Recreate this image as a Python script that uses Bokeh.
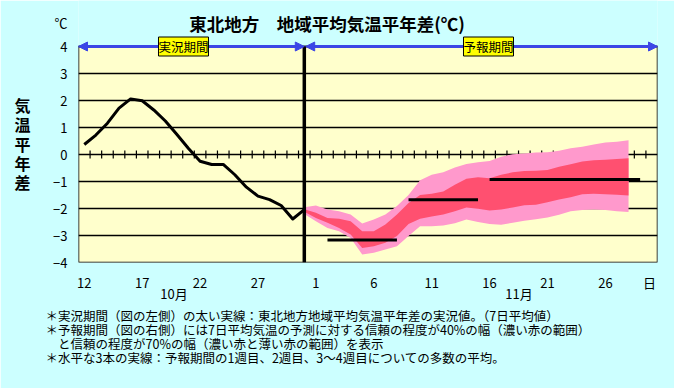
import numpy as np
from bokeh.plotting import figure
from bokeh.models import (Range1d, FixedTicker, Label, Arrow, NormalHead, LinearAxis, Title)
from bokeh.embed import file_html
from bokeh.resources import INLINE

# ---------------- data ----------------
title_text = "東北地方　地域平均気温平年差(℃)"
unit_text = "℃"
y_title_chars = ["気", "温", "平", "年", "差"]
month_labels = ["10月", "11月"]
day_unit = "日"
period_labels = ["実況期間", "予報期間"]

days = list(range(12, 32)) + list(range(1, 31))      # Oct 12 .. Nov 30
y_ticks = [-4, -3, -2, -1, 0, 1, 2, 3, 4]
y_tick_labels = ["−4", "−3", "−2", "−1", "0", "1", "2", "3", "4"]

obs = [0.37, 0.72, 1.16, 1.72, 2.06, 1.99, 1.65, 1.24, 0.74, 0.22,
       -0.25, -0.37, -0.37, -0.75, -1.21, -1.54, -1.67, -1.89, -2.39, -2.04]

fc_start = 19
fc_hi70 = [-1.95, -1.89, -2.04, -2.10, -2.22, -2.56, -2.41, -2.22, -1.91, -1.50,
           -0.95, -0.75, -0.66, -0.48, -0.35, -0.29, -0.24, -0.08, 0.01, 0.04,
           0.07, 0.08, 0.14, 0.23, 0.29, 0.37, 0.44, 0.47, 0.53]
fc_hi40 = [-2.03, -2.16, -2.35, -2.38, -2.47, -2.84, -2.84, -2.59, -2.22, -1.80,
           -1.50, -1.45, -1.37, -1.12, -0.90, -0.84, -0.88, -0.75, -0.66, -0.61,
           -0.60, -0.57, -0.45, -0.36, -0.26, -0.21, -0.19, -0.17, -0.14]
fc_lo40 = [-2.12, -2.35, -2.53, -2.72, -2.96, -3.46, -3.40, -3.27, -3.02, -2.57,
           -2.38, -2.30, -2.22, -2.10, -1.96, -2.01, -2.07, -2.04, -1.96, -1.88,
           -1.86, -1.77, -1.67, -1.58, -1.47, -1.45, -1.47, -1.49, -1.52]
fc_lo70 = [-2.20, -2.47, -2.72, -2.84, -3.09, -3.70, -3.64, -3.52, -3.40, -3.02,
           -2.66, -2.66, -2.63, -2.55, -2.41, -2.50, -2.57, -2.60, -2.53, -2.45,
           -2.40, -2.33, -2.23, -2.10, -2.06, -2.04, -2.06, -2.10, -2.13]

week_means = [-3.17, -1.68, -0.93]
week_first = [21, 28, 35]
week_last = [27, 34, 48]

notes = [
    "＊実況期間（図の左側）の太い実線：東北地方地域平均気温平年差の実況値。（7日平均値）",
    "＊予報期間（図の右側）には7日平均気温の予測に対する信頼の程度が40%の幅（濃い赤の範囲）",
    "　と信頼の程度が70%の幅（濃い赤と薄い赤の範囲）を表示",
    "＊水平な3本の実線：予報期間の1週目、2週目、3～4週目についての多数の平均。",
]

# ---------------- style / layout ----------------
BG = "#CCFFFF"
PLOT_BG = "#FFFFCC"
DARK = "#FF5070"
LIGHT = "#FF99CC"
BLUE = "#3C46E6"
FONT = "Noto Sans CJK JP"

W, H = 674, 388
F_LEFT, F_RIGHT, F_TOP, F_BOTTOM = 78, 657, 46, 262   # plot area in page pixels

n = len(days)
x_lo, x_hi = -0.5, n - 0.5
y_lo, y_top = y_ticks[0], y_ticks[-1]
px_per_unit = (F_BOTTOM - F_TOP) / float(y_top - y_lo)
y_hi = y_top + F_TOP / px_per_unit          # frame reaches the top of the canvas (title area)

p = figure(width=W, height=H, title=None,
           x_range=Range1d(x_lo, x_hi), y_range=Range1d(y_lo, y_hi),
           output_backend="svg", toolbar_location=None,
           min_border_left=F_LEFT, min_border_right=W - F_RIGHT,
           min_border_top=0, min_border_bottom=H - F_BOTTOM,
           background_fill_color=BG, border_fill_color=BG, outline_line_color=None)

def rx(px):
    return x_lo + (px - F_LEFT) / float(F_RIGHT - F_LEFT) * (x_hi - x_lo)

def ry(py):
    return y_top - (py - F_TOP) / px_per_unit

# plot area
p.quad(left=[x_lo], right=[x_hi], bottom=[y_lo], top=[y_top], fill_color=PLOT_BG,
       line_color="black", line_width=1.5, level="image")

# primary axes
xt = list(range(0, n, 5))
p.xaxis.ticker = FixedTicker(ticks=xt + [rx(649)])
ov = {i: str(days[i]) for i in xt}
ov[rx(649)] = day_unit
p.xaxis.major_label_overrides = ov
unit_pos = ry(22)
p.yaxis.ticker = FixedTicker(ticks=y_ticks + [unit_pos])
yov = {t: l for t, l in zip(y_ticks, y_tick_labels)}
yov[unit_pos] = unit_text
p.yaxis.major_label_overrides = yov

# outer axes carrying the stacked y title and the month names
yt_pos = [ry(104.5 + 19.3 * k) for k in range(len(y_title_chars))]
ax_ytitle = LinearAxis(ticker=FixedTicker(ticks=yt_pos),
                       major_label_overrides={v: c for v, c in zip(yt_pos, y_title_chars)})
p.add_layout(ax_ytitle, "left")
mt_pos = [rx(173.5), rx(518.5)]
ax_month = LinearAxis(ticker=FixedTicker(ticks=mt_pos),
                      major_label_overrides={v: m for v, m in zip(mt_pos, month_labels)})
p.add_layout(ax_month, "below")

for ax in (p.xaxis[0], p.yaxis[0], ax_ytitle, ax_month):
    ax.axis_line_color = None
    ax.major_tick_line_color = None
    ax.minor_tick_line_color = None
    ax.major_label_text_font = FONT
    ax.major_label_text_font_size = "13px"
    ax.major_label_text_color = "black"
    ax.major_tick_out = 0
    ax.major_tick_in = 0
p.xaxis[0].major_label_standoff = 10
p.yaxis[0].major_label_standoff = 11
ax_ytitle.major_label_text_font_size = "16px"
ax_ytitle.major_label_text_font_style = "bold"
ax_ytitle.major_label_standoff = 20
ax_month.major_label_standoff = -11

p.xgrid.visible = False
p.ygrid.ticker = FixedTicker(ticks=y_ticks)
p.ygrid.grid_line_color = "black"
p.ygrid.grid_line_width = 1.3

# small ticks on the zero line, at day boundaries
tb = np.arange(0.5, n - 1, 1.0)
p.segment(x0=tb, y0=np.full(len(tb), -0.15), x1=tb, y1=np.full(len(tb), 0.15),
          line_color="black", line_width=1.2)

fx = np.arange(fc_start, fc_start + len(fc_hi70))
p.varea(x=fx, y1=fc_lo70, y2=fc_hi70, fill_color=LIGHT)
p.varea(x=fx, y1=fc_lo40, y2=fc_hi40, fill_color=DARK)

p.segment(x0=week_first, y0=week_means, x1=week_last, y1=week_means,
          line_color="black", line_width=3)

p.line(x=np.arange(len(obs)), y=obs, line_color="black", line_width=3, line_join="round")

sep = len(obs) - 1
p.segment(x0=[sep], y0=[y_lo], x1=[sep], y1=[y_top], line_color="black", line_width=3.5)

for xs, xe in [(x_lo, sep), (sep + 0.12, x_hi)]:
    p.add_layout(Arrow(start=NormalHead(size=9, fill_color=BLUE, line_color=BLUE),
                       end=NormalHead(size=9, fill_color=BLUE, line_color=BLUE),
                       x_start=xs, y_start=y_top, x_end=xe, y_end=y_top,
                       line_color=BLUE, line_width=3))

for txt, px in zip(period_labels, [183, 488]):
    p.add_layout(Label(x=rx(px), y=y_top, text=txt, text_align="center", text_baseline="middle",
                       text_font=FONT, text_font_size="12.5px", text_color="black",
                       background_fill_color="#FFFF00", border_line_color="black",
                       border_line_width=1, padding=0))

p.add_layout(Label(x=rx(326.5), y=ry(22.5), text=title_text, text_align="center",
                   text_baseline="middle", text_font=FONT, text_font_size="17.5px",
                   text_font_style="bold", text_color="black"))

p.add_layout(Title(text="\n".join(notes), align="left", offset=45 - F_LEFT, standoff=-3,
                   text_font=FONT, text_font_size="12.5px", text_font_style="normal",
                   text_color="black", text_line_height=0.73), "below")

open("out.html", "w").write(file_html(p, INLINE))
